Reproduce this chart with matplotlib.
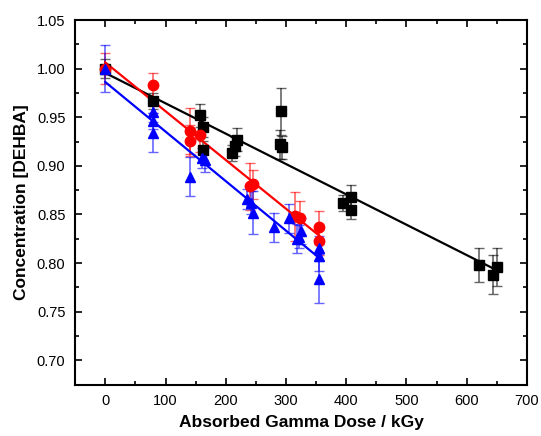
import matplotlib
matplotlib.use("Agg")
import matplotlib.pyplot as plt
import matplotlib.ticker as ticker
import numpy as np

plt.rcParams["font.family"] = ["Liberation Sans", "DejaVu Sans"]

# ── Data (dose kGy, concentration, error) ────────────────────────────────────
black_x = [0, 80, 158, 163, 163, 210, 215, 218, 292, 290, 293, 395, 408, 408, 620, 643, 650]
black_y = [1.000, 0.967, 0.952, 0.940, 0.916, 0.913, 0.920, 0.927, 0.956, 0.922, 0.919,
           0.862, 0.868, 0.855, 0.798, 0.788, 0.796]
black_err = [0.010, 0.008, 0.012, 0.010, 0.010, 0.008, 0.010, 0.012, 0.024, 0.015, 0.012,
             0.008, 0.012, 0.010, 0.018, 0.020, 0.020]

red_x = [0, 80, 140, 140, 157, 240, 245, 315, 323, 355, 355]
red_y = [1.000, 0.983, 0.936, 0.926, 0.932, 0.879, 0.881, 0.848, 0.846, 0.837, 0.823]
red_err = [0.016, 0.013, 0.024, 0.016, 0.018, 0.024, 0.015, 0.025, 0.018, 0.017, 0.015]

blue_x = [0, 80, 80, 80, 140, 160, 165, 235, 242, 245, 280, 305, 318, 322, 325, 355, 355, 355]
blue_y = [1.000, 0.955, 0.946, 0.934, 0.889, 0.908, 0.906, 0.866, 0.862, 0.852, 0.837,
          0.846, 0.825, 0.827, 0.833, 0.815, 0.807, 0.784]
blue_err = [0.024, 0.010, 0.008, 0.020, 0.020, 0.010, 0.012, 0.010, 0.012, 0.022, 0.015,
            0.015, 0.015, 0.012, 0.013, 0.013, 0.015, 0.025]

series = [
    (black_x, black_y, black_err, "black", "s"),
    (red_x, red_y, red_err, "red", "o"),
    (blue_x, blue_y, blue_err, "blue", "^"),
]

fig = plt.figure(figsize=(5.41, 4.36), dpi=100)
ax = fig.add_axes([0.139, 0.118, 0.835, 0.836])

for xs, ys, errs, color, marker in series:
    ax.errorbar(xs, ys, yerr=errs, fmt="none", ecolor=color, elinewidth=1.2,
                capsize=3.5, capthick=1.0, alpha=0.6, zorder=2)
    # linear fit over the series
    slope, icpt = np.polyfit(xs, ys, 1)
    fx = np.array([min(xs), max(xs)])
    ax.plot(fx, slope * fx + icpt, color=color, lw=1.6, zorder=3)
    ax.plot(xs, ys, linestyle="none", marker=marker, color=color,
            markersize=7.5, zorder=4)

ax.set_xlim(-50, 700)
ax.set_ylim(0.675, 1.05)
ax.xaxis.set_major_locator(ticker.MultipleLocator(100))
ax.xaxis.set_minor_locator(ticker.MultipleLocator(50))
ax.yaxis.set_major_locator(ticker.MultipleLocator(0.05))
ax.yaxis.set_minor_locator(ticker.MultipleLocator(0.025))
ax.yaxis.set_major_formatter(ticker.FormatStrFormatter("%.2f"))

ax.tick_params(which="both", direction="in", top=True, right=True, width=1.2,
               labelsize=10.5, pad=7)
ax.tick_params(which="major", length=5)
ax.tick_params(which="minor", length=3)
for sp in ax.spines.values():
    sp.set_linewidth(1.5)

ax.set_xlabel("Absorbed Gamma Dose / kGy", fontsize=12.5, fontweight="bold", labelpad=5)
ax.set_ylabel("Concentration [DEHBA]", fontsize=12.5, fontweight="bold", labelpad=6)

fig.savefig("out.png", dpi=100)
